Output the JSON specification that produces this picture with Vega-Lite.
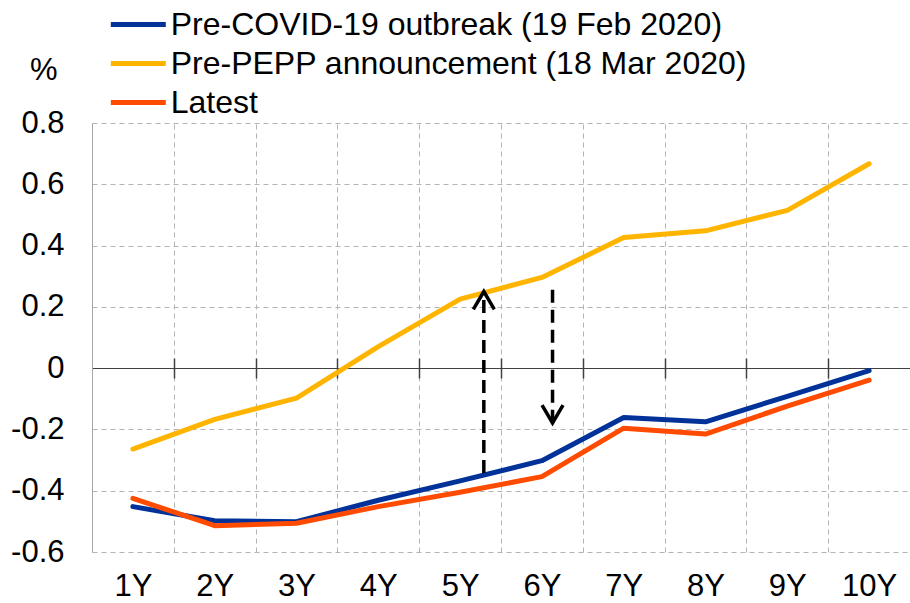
{
  "$schema": "https://vega.github.io/schema/vega-lite/v6.json",
  "width": 818,
  "height": 429,
  "autosize": {"type": "none"},
  "padding": {"left": 92, "top": 123, "right": 0, "bottom": 51},
  "background": "white",
  "config": {
    "view": {"stroke": null},
    "font": "Liberation Sans",
    "axis": {"labelFont": "Liberation Sans", "titleFont": "Liberation Sans"},
    "legend": {"labelFont": "Liberation Sans"}
  },
  "datasets": {
    "curves": [
      {"tenor": 1, "series": "Pre-COVID-19 outbreak (19 Feb 2020)", "value": -0.452},
      {"tenor": 2, "series": "Pre-COVID-19 outbreak (19 Feb 2020)", "value": -0.498},
      {"tenor": 3, "series": "Pre-COVID-19 outbreak (19 Feb 2020)", "value": -0.501},
      {"tenor": 4, "series": "Pre-COVID-19 outbreak (19 Feb 2020)", "value": -0.431},
      {"tenor": 5, "series": "Pre-COVID-19 outbreak (19 Feb 2020)", "value": -0.368},
      {"tenor": 6, "series": "Pre-COVID-19 outbreak (19 Feb 2020)", "value": -0.302},
      {"tenor": 7, "series": "Pre-COVID-19 outbreak (19 Feb 2020)", "value": -0.161},
      {"tenor": 8, "series": "Pre-COVID-19 outbreak (19 Feb 2020)", "value": -0.175},
      {"tenor": 9, "series": "Pre-COVID-19 outbreak (19 Feb 2020)", "value": -0.092},
      {"tenor": 10, "series": "Pre-COVID-19 outbreak (19 Feb 2020)", "value": -0.008},
      {"tenor": 1, "series": "Pre-PEPP announcement (18 Mar 2020)", "value": -0.264},
      {"tenor": 2, "series": "Pre-PEPP announcement (18 Mar 2020)", "value": -0.167},
      {"tenor": 3, "series": "Pre-PEPP announcement (18 Mar 2020)", "value": -0.098},
      {"tenor": 4, "series": "Pre-PEPP announcement (18 Mar 2020)", "value": 0.07},
      {"tenor": 5, "series": "Pre-PEPP announcement (18 Mar 2020)", "value": 0.225},
      {"tenor": 6, "series": "Pre-PEPP announcement (18 Mar 2020)", "value": 0.296},
      {"tenor": 7, "series": "Pre-PEPP announcement (18 Mar 2020)", "value": 0.426},
      {"tenor": 8, "series": "Pre-PEPP announcement (18 Mar 2020)", "value": 0.448},
      {"tenor": 9, "series": "Pre-PEPP announcement (18 Mar 2020)", "value": 0.515},
      {"tenor": 10, "series": "Pre-PEPP announcement (18 Mar 2020)", "value": 0.667},
      {"tenor": 1, "series": "Latest", "value": -0.425},
      {"tenor": 2, "series": "Latest", "value": -0.514},
      {"tenor": 3, "series": "Latest", "value": -0.506},
      {"tenor": 4, "series": "Latest", "value": -0.452},
      {"tenor": 5, "series": "Latest", "value": -0.405},
      {"tenor": 6, "series": "Latest", "value": -0.354},
      {"tenor": 7, "series": "Latest", "value": -0.196},
      {"tenor": 8, "series": "Latest", "value": -0.215},
      {"tenor": 9, "series": "Latest", "value": -0.124},
      {"tenor": 10, "series": "Latest", "value": -0.039}
    ],
    "arrows": [
      {"x": 5.29, "from": -0.342, "to": 0.25, "dir": "up"},
      {"x": 6.13, "from": 0.256, "to": -0.179, "dir": "down"}
    ]
  },
  "resolve": {"axis": {"x": "independent"}},
  "layer": [
    {
      "data": {"name": "curves"},
      "mark": {"type": "line", "strokeWidth": 5, "strokeCap": "round", "strokeJoin": "round"},
      "encoding": {
        "x": {
          "field": "tenor", "type": "quantitative",
          "scale": {"domain": [0.5, 10.5], "nice": false, "zero": false},
          "axis": {
            "orient": "bottom", "values": [1, 2, 3, 4, 5, 6, 7, 8, 9, 10],
            "labelExpr": "datum.value + 'Y'", "grid": false, "domain": false, "ticks": false,
            "labelFontSize": 31, "labelPadding": 19, "labelColor": "black", "title": null
          }
        },
        "y": {
          "field": "value", "type": "quantitative", "title": "%",
          "scale": {"domain": [-0.6, 0.8], "nice": false, "zero": false},
          "axis": {
            "values": [-0.6, -0.4, -0.2, 0, 0.2, 0.4, 0.6, 0.8],
            "labelExpr": "(datum.value < 0 ? '-' : '') + format(abs(datum.value), '.1~f')",
            "grid": true,
            "gridColor": {"condition": {"test": "datum.value === 0", "value": "#404040"}, "value": "#b3b3b3"},
            "gridDash": {"condition": {"test": "datum.value === 0", "value": []}, "value": [5, 4]},
            "gridWidth": 1,
            "domain": true, "domainColor": "#a6a6a6", "domainWidth": 1,
            "ticks": false, "labelFontSize": 31, "labelPadding": 28, "labelColor": "black",
            "title": "%", "titleAngle": 0, "titleX": -48.6, "titleY": -43.7,
            "titleAlign": "center", "titleBaseline": "alphabetic", "titleFontSize": 31,
            "titleFontWeight": "normal", "titleColor": "black"
          }
        },
        "color": {
          "field": "series", "type": "nominal",
          "scale": {
            "domain": ["Pre-COVID-19 outbreak (19 Feb 2020)", "Pre-PEPP announcement (18 Mar 2020)", "Latest"],
            "range": ["#003299", "#FFB400", "#FF4B00"]
          },
          "legend": {
            "title": null, "orient": "none", "legendX": 30.3, "legendY": -114.5,
            "direction": "vertical", "columns": 1,
            "symbolType": "M-3,0L3,0", "symbolSize": 336, "symbolStrokeWidth": 5,
            "labelFontSize": 32, "labelColor": "black", "labelOffset": 16.4,
            "rowPadding": 7, "labelLimit": 800, "padding": 0
          }
        }
      }
    },
    {
      "data": {"name": "arrows"},
      "mark": {"type": "rule", "strokeWidth": 3.5, "strokeDash": [13, 7], "color": "black"},
      "encoding": {
        "x": {
          "field": "x", "type": "quantitative",
          "axis": {
            "orient": "top", "values": [1.5, 2.5, 3.5, 4.5, 5.5, 6.5, 7.5, 8.5, 9.5],
            "grid": true, "gridColor": "#b3b3b3", "gridDash": [5, 4], "gridWidth": 1,
            "labels": false, "domain": false, "ticks": true, "tickSize": 20,
            "tickColor": "#404040", "tickWidth": 1.5, "offset": -255, "title": null
          }
        },
        "y": {"field": "from", "type": "quantitative", "title": "%"},
        "y2": {"field": "to"}
      }
    },
    {
      "data": {"name": "arrows"},
      "mark": {"type": "point", "filled": false, "strokeWidth": 3.5, "color": "black", "size": 441, "opacity": 1},
      "encoding": {
        "x": {"field": "x", "type": "quantitative", "axis": null},
        "y": {"field": "to", "type": "quantitative", "title": "%"},
        "shape": {
          "field": "dir", "type": "nominal",
          "scale": {"domain": ["up", "down"], "range": ["M-1,1.7L0,0L1,1.7", "M-1,-1.7L0,0L1,-1.7"]},
          "legend": null
        }
      }
    }
  ]
}
